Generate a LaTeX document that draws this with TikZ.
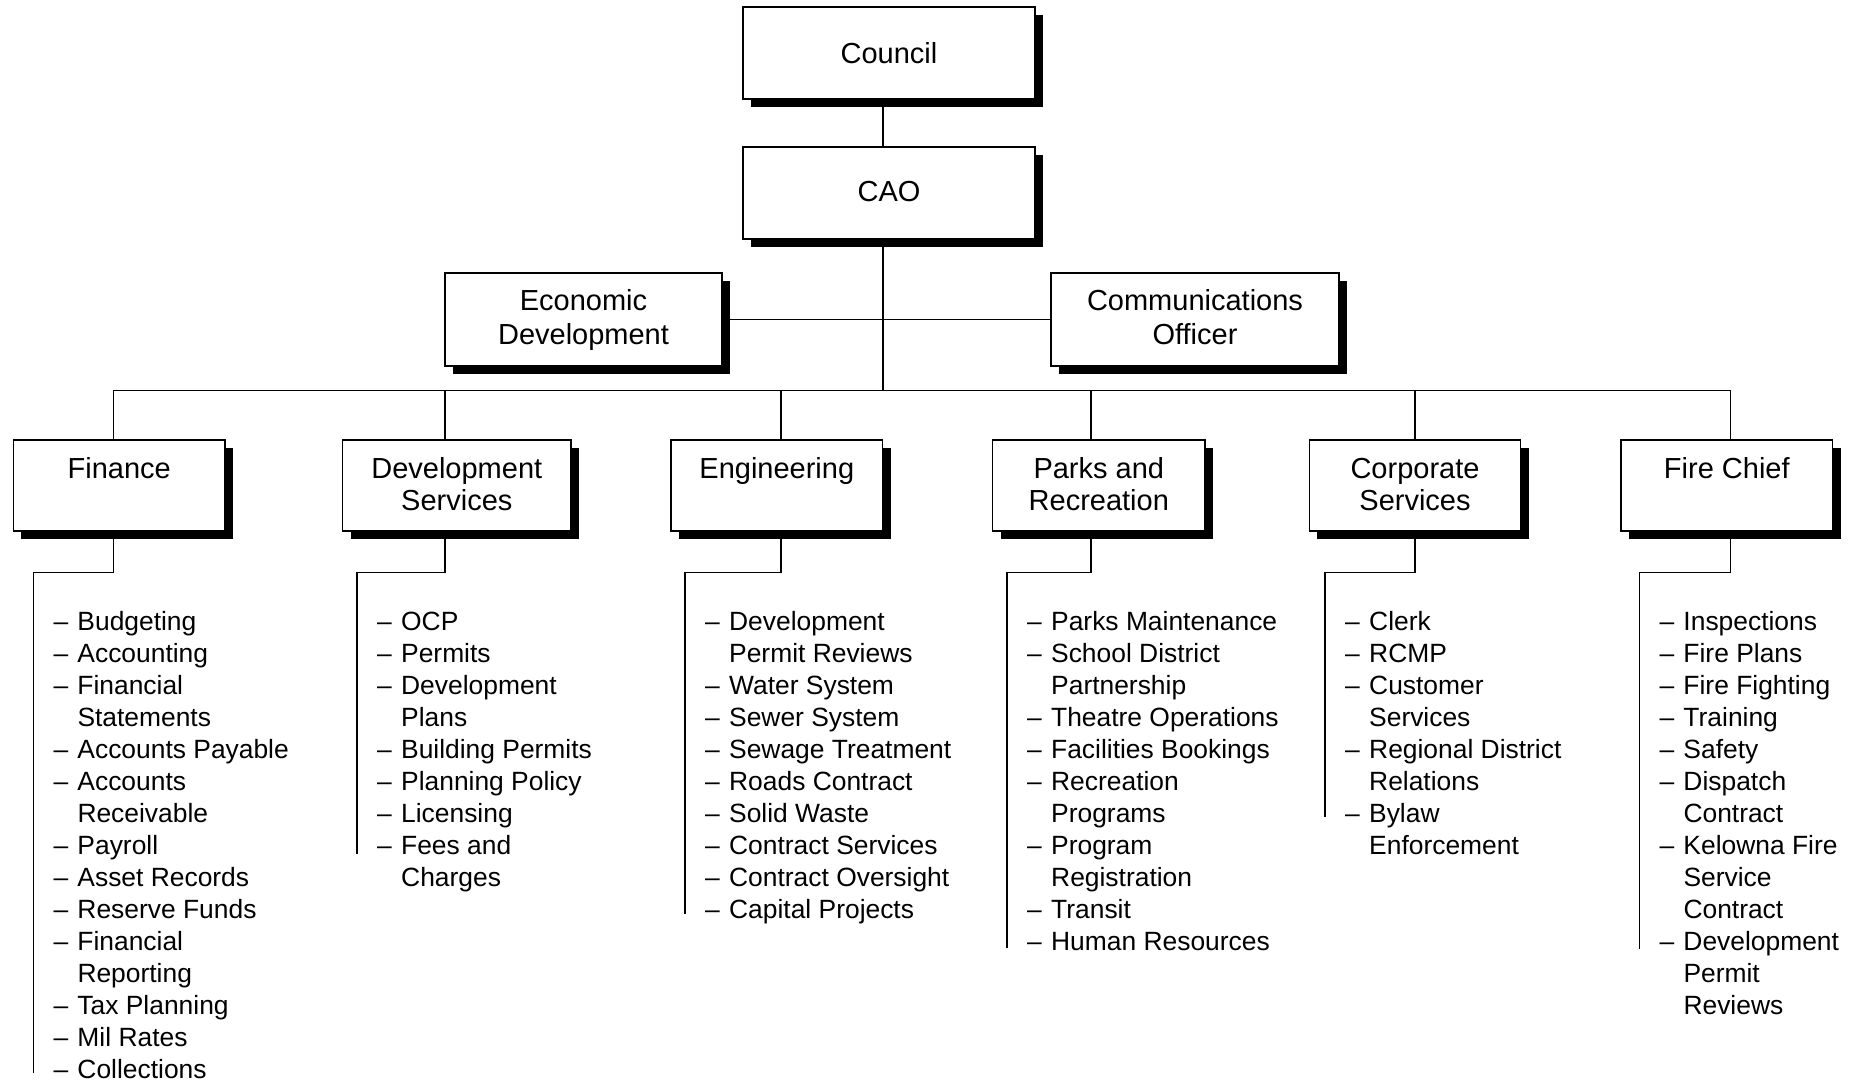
\documentclass[tikz,border=0pt]{standalone}
\usepackage{fontspec}
\setmainfont{Liberation Sans}
\usetikzlibrary{shadows,backgrounds}
\newcommand\dsh{\makebox[24pt][l]{\textendash}}
\newcommand\cnt{\hspace*{24pt}}
\begin{document}
\begin{tikzpicture}[x=1pt,y=-1pt,
  box/.style={draw=black, line width=1.5pt, fill=white, inner sep=0pt,
    drop shadow={shadow xshift=8pt, shadow yshift=-8pt, opacity=1, fill=black}},
  topbox/.style={box, minimum height=92pt},
  deptbox/.style={box, minimum height=91pt},
  lbl/.style={inner sep=0pt, anchor=base, font=\fontsize{29}{32}\selectfont},
  lbltop/.style={lbl, font=\fontsize{29}{34}\selectfont},
  lst/.style={inner sep=0pt, anchor=base west, font=\fontsize{26.4}{32}\selectfont},
  conn/.style={line width=1.5pt}]
\useasboundingbox (0,0) rectangle (1860,1082);

% boxes
\node[topbox, minimum width=292pt] (council) at (889,53) {};
\node[topbox, minimum width=292pt] (cao) at (889,193) {};
\node[topbox, minimum width=277pt, minimum height=93pt] (econ) at (583.5,319.5) {};
\node[topbox, minimum width=288pt, minimum height=93pt] (comm) at (1195,319.5) {};
\node[deptbox, minimum width=211.7pt] (fin) at (119.2,485.5) {};
\node[deptbox, minimum width=228.3pt] (dev) at (456.8,485.5) {};
\node[deptbox, minimum width=211.7pt] (eng) at (776.8,485.5) {};
\node[deptbox, minimum width=212.3pt] (park) at (1098.8,485.5) {};
\node[deptbox, minimum width=211.4pt] (corp) at (1415,485.5) {};
\node[deptbox, minimum width=211.7pt] (fire) at (1726.8,485.5) {};

% box labels
\node[lbl] (councilT) at (889,63) {Council};
\node[lbl] (caoT) at (889,201) {CAO};
\node[lbltop] (econT) at (583.5,310.5) {\begin{tabular}[t]{@{}c@{}}Economic\\Development\end{tabular}};
\node[lbltop] (commT) at (1195,310.5) {\begin{tabular}[t]{@{}c@{}}Communications\\Officer\end{tabular}};
\node[lbl] (finT) at (119.2,478.5) {Finance};
\node[lbl] (devT) at (456.8,478.5) {\begin{tabular}[t]{@{}c@{}}Development\\Services\end{tabular}};
\node[lbl] (engT) at (776.8,478.5) {Engineering};
\node[lbl] (parkT) at (1098.8,478.5) {\begin{tabular}[t]{@{}c@{}}Parks and\\Recreation\end{tabular}};
\node[lbl] (corpT) at (1415,478.5) {\begin{tabular}[t]{@{}c@{}}Corporate\\Services\end{tabular}};
\node[lbl] (fireT) at (1726.8,478.5) {Fire Chief};

% junction coordinates
\coordinate (trunk) at (883,390.5);
\coordinate (dFin) at (113.3,390.5);
\coordinate (dDev) at (445,390.5);
\coordinate (dEng) at (781,390.5);
\coordinate (dPark) at (1091,390.5);
\coordinate (dCorp) at (1415,390.5);
\coordinate (dFire) at (1730.7,390.5);
\coordinate (eFin) at (33.3,572.3);
\coordinate (eDev) at (357,572.3);
\coordinate (eEng) at (685,572.3);
\coordinate (ePark) at (1007,572.3);
\coordinate (eCorp) at (1325,572.3);
\coordinate (eFire) at (1639.3,572.3);
\coordinate (bFin) at (33.3,1073);
\coordinate (bDev) at (357,854);
\coordinate (bEng) at (685,914);
\coordinate (bPark) at (1007,948);
\coordinate (bCorp) at (1325,817);
\coordinate (bFire) at (1639.3,949);

% lists
\node[lst] (finList) at (53.3,630) {\begin{tabular}[t]{@{}l@{}}
\dsh Budgeting\\ \dsh Accounting\\ \dsh Financial\\ \cnt Statements\\
\dsh Accounts Payable\\ \dsh Accounts\\ \cnt Receivable\\ \dsh Payroll\\
\dsh Asset Records\\ \dsh Reserve Funds\\ \dsh Financial\\ \cnt Reporting\\
\dsh Tax Planning\\ \dsh Mil Rates\\ \dsh Collections\end{tabular}};
\node[lst] (devList) at (377,630) {\begin{tabular}[t]{@{}l@{}}
\dsh OCP\\ \dsh Permits\\ \dsh Development\\ \cnt Plans\\ \dsh Building Permits\\
\dsh Planning Policy\\ \dsh Licensing\\ \dsh Fees and\\ \cnt Charges\end{tabular}};
\node[lst] (engList) at (705,630) {\begin{tabular}[t]{@{}l@{}}
\dsh Development\\ \cnt Permit Reviews\\ \dsh Water System\\ \dsh Sewer System\\
\dsh Sewage Treatment\\ \dsh Roads Contract\\ \dsh Solid Waste\\
\dsh Contract Services\\ \dsh Contract Oversight\\ \dsh Capital Projects\end{tabular}};
\node[lst] (parkList) at (1027,630) {\begin{tabular}[t]{@{}l@{}}
\dsh Parks Maintenance\\ \dsh School District\\ \cnt Partnership\\
\dsh Theatre Operations\\ \dsh Facilities Bookings\\ \dsh Recreation\\ \cnt Programs\\
\dsh Program\\ \cnt Registration\\ \dsh Transit\\ \dsh Human Resources\end{tabular}};
\node[lst] (corpList) at (1345,630) {\begin{tabular}[t]{@{}l@{}}
\dsh Clerk\\ \dsh RCMP\\ \dsh Customer\\ \cnt Services\\ \dsh Regional District\\
\cnt Relations\\ \dsh Bylaw\\ \cnt Enforcement\end{tabular}};
\node[lst] (fireList) at (1659.3,630) {\begin{tabular}[t]{@{}l@{}}
\dsh Inspections\\ \dsh Fire Plans\\ \dsh Fire Fighting\\ \dsh Training\\ \dsh Safety\\
\dsh Dispatch\\ \cnt Contract\\ \dsh Kelowna Fire\\ \cnt Service\\ \cnt Contract\\
\dsh Development\\ \cnt Permit\\ \cnt Reviews\end{tabular}};

% connectors
\begin{pgfonlayer}{background}
\draw[conn] (trunk |- council.south) -- (trunk |- cao.north);
\draw[conn] (trunk |- cao.south) -- (trunk);
\draw[conn] (econ.east) -- (comm.west);
\draw[conn] (dFin) -- (dFire);
\foreach \d/\b/\e/\z in {dFin/fin/eFin/bFin, dDev/dev/eDev/bDev, dEng/eng/eEng/bEng,
    dPark/park/ePark/bPark, dCorp/corp/eCorp/bCorp, dFire/fire/eFire/bFire} {
  \draw[conn] (\d) -- (\d |- \b.north);
  \draw[conn] (\d |- \b.south) -- (\d |- \e) -- (\e) -- (\z);
}
\end{pgfonlayer}
\end{tikzpicture}
\end{document}
